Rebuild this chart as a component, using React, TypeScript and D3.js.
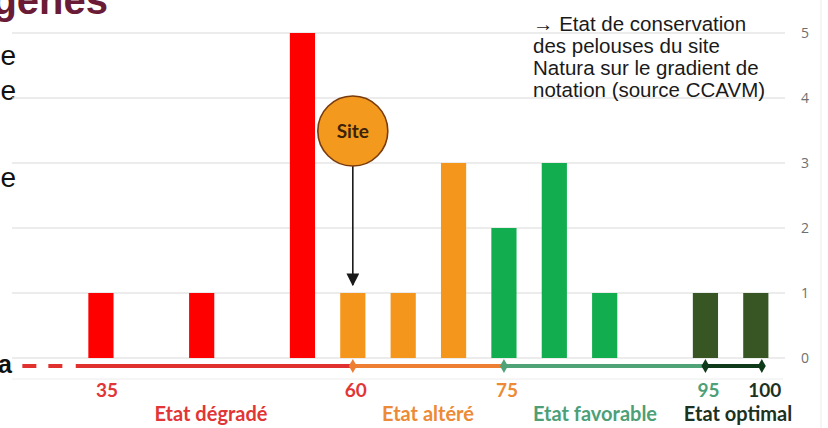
import * as d3 from 'd3'

const W = 828
const H = 428

// bar slots along the score gradient (left to right), count of grassland plots
const slots = ['s0', 's1', 's2', 's3', 's4', 's5', 's6', 's7', 's8', 's9', 's10', 's11', 's12', 's13', 's14', 's15']
const counts = [0, 0, 1, 0, 1, 0, 5, 1, 1, 3, 2, 3, 1, 0, 1, 1]
const slotState = ['degrade', 'degrade', 'degrade', 'degrade', 'degrade', 'degrade', 'degrade', 'altere', 'altere', 'altere', 'favorable', 'favorable', 'favorable', 'optimal', 'optimal', 'optimal']
const yTicks = [0, 1, 2, 3, 4, 5]
const siteSlot = 's7'

// notation gradient
const thresholds = [35, 60, 75, 95, 100]
const thresholdSlots = ['s2', 's7', 's10', 's14']
const segments = [
  { from: 32.5, to: 60, state: 'degrade' },
  { from: 60, to: 75, state: 'altere' },
  { from: 75, to: 95, state: 'favorable' },
  { from: 95, to: 100, state: 'optimal' },
]
const markers = [
  { score: 60, state: 'altere' },
  { score: 75, state: 'favorable' },
  { score: 95, state: 'optimal' },
  { score: 100, state: 'optimal' },
]
const stateLabels = [
  { state: 'degrade', label: 'Etat dégradé' },
  { state: 'altere', label: 'Etat altéré' },
  { state: 'favorable', label: 'Etat favorable' },
  { state: 'optimal', label: 'Etat optimal' },
]
const noteLines = ['→  Etat de conservation', 'des pelouses du site', 'Natura sur le gradient de', 'notation (source CCAVM)']

const barColor: Record<string, string> = {
  degrade: '#ff0000',
  altere: '#f4961c',
  favorable: '#12ad4f',
  optimal: '#385623',
}
const lineColor: Record<string, string> = {
  degrade: '#e0312f',
  altere: '#ee7e32',
  favorable: '#4fa377',
  optimal: '#0f3a19',
}
const textColor: Record<string, string> = {
  degrade: '#e23535',
  altere: '#ec8a36',
  favorable: '#4d9f78',
  optimal: '#1d311f',
}

export default function App() {
  const x = d3.scaleBand().domain(slots).range([-25, 781]).paddingInner(0.5).paddingOuter(0.25)
  const y = d3.scaleLinear().domain([0, 5]).range([358, 33])
  const cx = (s: string) => (x(s) ?? 0) + x.bandwidth() / 2

  // score -> x, pinned to the bar slots at each threshold
  const score = d3
    .scaleLinear()
    .domain(thresholds)
    .range([...thresholdSlots.map(cx), cx('s15') + 6])

  const lineY = 366
  const diamond = d3.symbol().type(d3.symbolDiamond).size(55)
  const labelX: Record<string, number> = {
    degrade: 211,
    altere: 428,
    favorable: 595,
    optimal: 738,
  }

  const sx = cx(siteSlot)
  const siteY = 131
  const siteR = 35

  return (
    <svg width={W} height={H} style={{ position: 'absolute', left: 0, top: 0, background: '#fff' }}>
      <defs>
        <marker id="arr" viewBox="0 0 10 10" refX="9" refY="5" markerWidth="8" markerHeight="8" orient="auto">
          <path d="M0,0 L10,5 L0,10 z" fill="#1a1a1a" />
        </marker>
      </defs>

      {/* slide fragments on the left */}
      <text x={108} y={14} textAnchor="end" fontFamily="Liberation Sans" fontWeight="bold" fontSize={40} fill="#6a1b36">
        genes
      </text>
      {[65, 100, 187].map((b) => (
        <text key={b} x={16} y={b} textAnchor="end" fontFamily="Liberation Sans" fontSize={28} fill="#111">
          e
        </text>
      ))}
      <text x={12} y={373} textAnchor="end" fontFamily="Liberation Sans" fontWeight="bold" fontSize={25} fill="#111">
        a
      </text>

      {/* chart frame */}
      <line x1={821} x2={821} y1={0} y2={428} stroke="#ebebeb" />
      <line x1={12} x2={783} y1={379} y2={379} stroke="#ececec" />

      {yTicks.map((t) => (
        <g key={t}>
          <line x1={12} x2={785} y1={y(t)} y2={y(t)} stroke="#dadada" strokeWidth={1.2} />
          <text x={805} y={y(t)} dy="0.35em" textAnchor="middle" fontFamily="Open Sans" fontSize={14} fill="#6f6f6f">
            {t}
          </text>
        </g>
      ))}

      {slots.map((s, i) =>
        counts[i] > 0 ? (
          <rect
            key={s}
            x={x(s)}
            y={y(counts[i])}
            width={x.bandwidth()}
            height={y(0) - y(counts[i])}
            fill={barColor[slotState[i]]}
          />
        ) : null
      )}

      {/* site marker */}
      <line x1={sx} x2={sx} y1={siteY + siteR} y2={285} stroke="#1a1a1a" strokeWidth={1.6} markerEnd="url(#arr)" />
      <circle cx={sx} cy={siteY} r={siteR} fill="#f39a1e" stroke="#7a3b0c" strokeWidth={1.6} />
      <text x={sx} y={siteY} dy="0.35em" textAnchor="middle" fontFamily="Lato" fontWeight="bold" fontSize={19} fill="#3d2208">
        Site
      </text>

      {/* notation gradient */}
      <line
        x1={score(27.2)}
        x2={score(31.5)}
        y1={lineY}
        y2={lineY}
        stroke={lineColor.degrade}
        strokeWidth={4}
        strokeDasharray="14 12"
      />
      {segments.map((g) => (
        <line
          key={g.state}
          x1={score(g.from)}
          x2={score(g.to)}
          y1={lineY}
          y2={lineY}
          stroke={lineColor[g.state]}
          strokeWidth={4}
        />
      ))}
      {markers.map((m) => (
        <path key={m.score} d={diamond() ?? ''} transform={`translate(${score(m.score)},${lineY})`} fill={lineColor[m.state]} />
      ))}
      {thresholds.map((t, i) => (
        <text
          key={t}
          x={score(t) + (i === 0 ? 6 : 3)}
          y={397}
          textAnchor="middle"
          fontFamily="Lato"
          fontWeight="bold"
          fontSize={19}
          fill={textColor[i === 0 ? 'degrade' : segments[i - 1].state]}
        >
          {t}
        </text>
      ))}
      {stateLabels.map((l) => (
        <text
          key={l.state}
          x={labelX[l.state]}
          y={421}
          textAnchor="middle"
          fontFamily="Lato"
          fontWeight="bold"
          fontSize={20}
          fill={textColor[l.state]}
        >
          {l.label}
        </text>
      ))}

      {/* note */}
      {noteLines.map((t, i) => (
        <text key={i} x={533} y={31 + i * 22} fontFamily="Liberation Sans" fontSize={20.5} fill="#1a1a1a">
          {t}
        </text>
      ))}
    </svg>
  )
}
